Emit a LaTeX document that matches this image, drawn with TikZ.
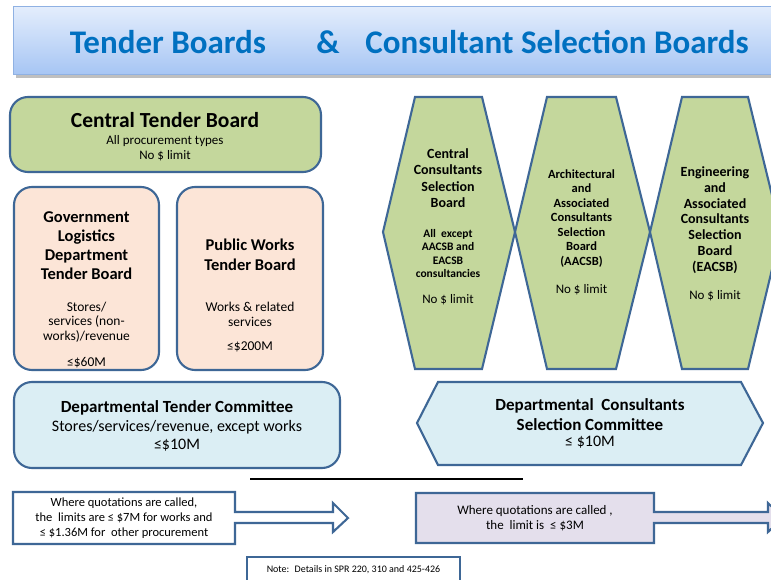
\documentclass[tikz,border=0pt]{standalone}
\usepackage{fontspec}
\setmainfont{Carlito}
\usetikzlibrary{shadows}
\definecolor{titleblue}{HTML}{0070C0}
\definecolor{bartop}{HTML}{E3EDFC}
\definecolor{barbot}{HTML}{A6C5F4}
\definecolor{barline}{HTML}{8FB1E3}
\definecolor{edge}{HTML}{3E6796}
\definecolor{greenfill}{HTML}{C4D79C}
\definecolor{peach}{HTML}{FCE5D7}
\definecolor{ltblue}{HTML}{DBEEF4}
\definecolor{lilac}{HTML}{E4DFEC}
\tikzset{
  shapeline/.style={draw=edge, line width=2.1pt, line join=miter},
  rbox/.style={shapeline, rounded corners=18pt},
  txt/.style={align=center, inner sep=0pt, text=black},
  fs/.style args={#1/#2}{font=\fontsize{#1}{#2}\selectfont},
  fb/.style args={#1/#2}{font=\fontsize{#1}{#2}\selectfont\bfseries},
}
\begin{document}
\begin{tikzpicture}[x=1pt,y=-1pt]
\useasboundingbox (0,0) rectangle (771,580);
\clip (0,0) rectangle (771,580);
\fill[white] (0,0) rectangle (771,580);

% title bar
\fill[black!25] (16,10) rectangle (795,78);
\shade[top color=bartop, bottom color=barbot, draw=barline, line width=1pt] (13,7) rectangle (795,75);
\node[txt, fb=33/36, text=titleblue] (t1) at (168,42) {Tender Boards};
\node[txt, fb=33/36, text=titleblue] (t2) at (328,42) {\&};
\node[txt, fb=33/36, text=titleblue] (t3) at (557,42) {Consultant Selection Boards};

% Central Tender Board
\draw[rbox, fill=greenfill] (10,97) rectangle (321,172);
\node[txt, fb=21.5/24] (ctb) at (165,120) {Central Tender Board};
\node[txt, fs=13/15] (ctbt) at (165,148) {All procurement types\\No \$ limit};

% GLD Tender Board
\draw[rbox, fill=peach] (14,187) rectangle (159,370);
\node[txt, fb=16.5/19] (gld) at (86.5,245.5) {Government\\Logistics\\Department\\Tender Board};
\node[txt, fs=13.5/14.5] (gldt) at (86.5,322) {Stores/\\services (non-\\works)/revenue};
\node[txt, fs=13.5/15] (gldl) at (86.5,363) {≤\$60M};

% Public Works Tender Board
\draw[rbox, fill=peach] (177,187) rectangle (323,370);
\node[txt, fb=16.5/20] (pw) at (250,255) {Public Works\\Tender Board};
\node[txt, fs=13.5/15] (pwt) at (250,314) {Works \& related\\services};
\node[txt, fs=13.5/15] (pwl) at (250,347) {≤\$200M};

% Departmental Tender Committee
\draw[rbox, fill=ltblue] (14,382) rectangle (340,468);
\node[txt, fb=17/19] (dtc) at (177,408) {Departmental Tender Committee};
\node[txt, fs=16/18] (dtct) at (177,436) {Stores/services/revenue, except works\\≤\$10M};

% hexagons
\draw[shapeline, fill=greenfill] (383,232) -- (415,97) -- (482,97) -- (515,232) -- (482,369) -- (415,369) -- cycle;
\draw[shapeline, fill=greenfill] (515,232) -- (547,97) -- (616,97) -- (650,232) -- (616,369) -- (547,369) -- cycle;
\draw[shapeline, fill=greenfill] (650,232) -- (682,97) -- (748,97) -- (781,232) -- (748,369) -- (682,369) -- cycle;

\node[txt, fb=14/16.3] (h1a) at (448,178) {Central\\Consultants\\Selection\\Board};
\node[txt, fb=11.5/13.3] (h1b) at (448,253.5) {All~ except\\AACSB and\\EACSB\\consultancies};
\node[txt, fs=13/15] (h1c) at (448,300) {No \$ limit};

\node[txt, fb=12.5/14.5] (h2a) at (581.5,218.5) {Architectural\\and\\Associated\\Consultants\\Selection\\Board\\(AACSB)};
\node[txt, fs=13/15] (h2c) at (581.5,290) {No \$ limit};

\node[txt, fb=14/15.8] (h3a) at (715,220) {Engineering\\and\\Associated\\Consultants\\Selection\\Board\\(EACSB)};
\node[txt, fs=13/15] (h3c) at (715,296) {No \$ limit};

% Departmental Consultants Selection Committee
\draw[shapeline, fill=ltblue] (417,423) -- (438,382) -- (741,382) -- (763,423) -- (741,465) -- (438,465) -- cycle;
\node[txt, fb=17/20] (dcsc) at (590,415) {Departmental~ Consultants\\Selection Committee};
\node[txt, fs=16/18] (dcscl) at (590,442) {≤ \$10M};

% separator line
\draw[line width=1.2pt, black] (250,479) -- (523,479);

% left arrow box
\draw[shapeline, fill=white] (13,492) -- (235,492) -- (235,512) -- (333,512) -- (333,503) -- (348,518) -- (333,532) -- (333,523) -- (235,523) -- (235,544) -- (13,544) -- cycle;
\node[txt, fs=12.5/15] (qa) at (124,518) {Where quotations are called,\\the~ limits are ≤ \$7M for works and\\≤ \$1.36M for~ other procurement};

% right arrow box
\draw[shapeline, fill=lilac] (416,493) -- (654,493) -- (654,512) -- (768,512) -- (768,503) -- (783,518) -- (768,532) -- (768,523) -- (654,523) -- (654,543) -- (416,543) -- cycle;
\node[txt, fs=13/15] (qb) at (535,518.5) {Where quotations are called ,\\the~ limit is~ ≤ \$3M};

% note
\draw[shapeline, fill=white] (247,557) rectangle (460,592);
\node[txt, fs=10/12] (note) at (353.5,570) {Note:~ Details in SPR 220, 310 and 425-426};
\end{tikzpicture}
\end{document}
